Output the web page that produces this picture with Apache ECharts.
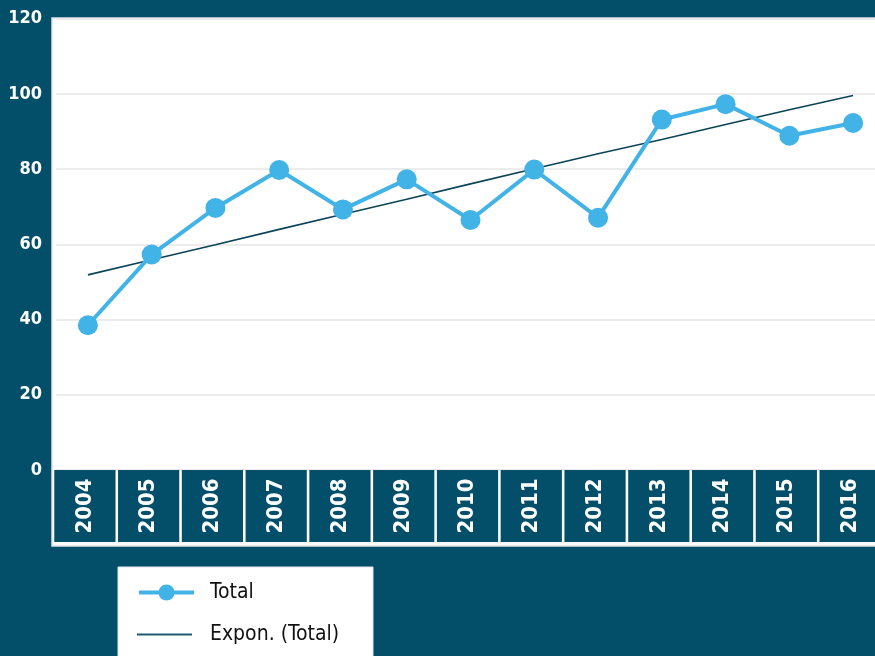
<!DOCTYPE html>
<html>
<head>
<meta charset="utf-8">
<script src="https://cdn.jsdelivr.net/npm/echarts@6/dist/echarts.min.js"></script>
<style>
html,body{margin:0;padding:0;background:#034f69;overflow:hidden;}
#chart{width:900px;height:656px;}
</style>
</head>
<body>
<div id="chart"></div>
<script>
var years = ['2004','2005','2006','2007','2008','2009','2010','2011','2012','2013','2014','2015','2016'];
var total = [38.5, 57.3, 69.7, 79.8, 69.3, 77.3, 66.5, 79.9, 67.1, 93.2, 97.3, 88.9, 92.3];
var trend = [51.9, 55.9, 59.9, 64.0, 68.0, 72.0, 76.1, 80.1, 84.1, 87.9, 91.9, 95.8, 99.6];
var yTicks = [0, 20, 40, 60, 80, 100, 120];
var cellFill = years.map(function(){ return 1; });

var BG = '#034f69';
var FONT = "'DejaVu Sans Condensed', 'DejaVu Sans', sans-serif";

var chart = echarts.init(document.getElementById('chart'));
chart.setOption({
  backgroundColor: BG,
  animation: false,
  graphic: [{
    type: 'rect', z: -10, silent: true,
    shape: {x: 52, y: 18, width: 840, height: 528},
    style: {fill: '#ffffff', stroke: '#e2e4e6', lineWidth: 1.5}
  }, {
    type: 'rect', z: -10, silent: true,
    shape: {x: 118, y: 567, width: 255, height: 100},
    style: {fill: '#ffffff', stroke: '#e2e4e6', lineWidth: 1}
  }],
  legend: [{
    data: ['Total'],
    left: 137, top: 582, padding: 0,
    itemWidth: 55, itemHeight: 20,
    lineStyle: {width: 4},
    textStyle: {color: '#111111', fontSize: 21, fontFamily: FONT, padding: [0, 0, 0, 11]}
  }, {
    data: [{name: 'Expon. (Total)', icon: 'rect'}],
    left: 137, top: 624, padding: 0,
    itemWidth: 55, itemHeight: 2,
    textStyle: {color: '#111111', fontSize: 21, fontFamily: FONT, padding: [0, 0, 0, 13]}
  }],
  grid: [
    {left: 56, top: 18.8, width: 829, height: 451.2},
    {left: 53, top: 470, width: 829, height: 72}
  ],
  xAxis: [
    {type: 'category', gridIndex: 0, data: years, boundaryGap: true,
     axisLine: {show: false}, axisTick: {show: false}, axisLabel: {show: false}},
    {type: 'category', gridIndex: 1, data: years, boundaryGap: true,
     axisLine: {show: false}, axisTick: {show: false}, axisLabel: {show: false}}
  ],
  yAxis: [
    {type: 'value', gridIndex: 0, min: yTicks[0], max: yTicks[yTicks.length-1], interval: 20,
     axisLine: {show: false}, axisTick: {show: false},
     splitLine: {lineStyle: {color: '#ececec', width: 2}},
     axisLabel: {color: '#ffffff', fontSize: 18, fontWeight: 'bold', fontFamily: FONT, margin: 14}},
    {type: 'value', gridIndex: 1, min: 0, max: 1, show: false}
  ],
  series: [
    {
      name: 'cells', type: 'bar', xAxisIndex: 1, yAxisIndex: 1,
      data: cellFill, barCategoryGap: '4%', silent: true,
      itemStyle: {color: BG},
      label: {
        show: true, position: 'inside', rotate: 90,
        formatter: function(p){ return years[p.dataIndex]; },
        color: '#ffffff', fontSize: 22, fontWeight: 'bold', fontFamily: FONT
      }
    },
    {
      name: 'Expon. (Total)', type: 'line', xAxisIndex: 0, yAxisIndex: 0,
      data: trend, symbol: 'none', z: 3,
      lineStyle: {color: '#0c4457', width: 1.6},
      itemStyle: {color: '#1f5a6e'}
    },
    {
      name: 'Total', type: 'line', xAxisIndex: 0, yAxisIndex: 0,
      data: total, symbol: 'circle', symbolSize: 20, z: 4,
      lineStyle: {color: '#41b3e6', width: 4},
      itemStyle: {color: '#41b3e6'}
    }
  ]
});
</script>
</body>
</html>
